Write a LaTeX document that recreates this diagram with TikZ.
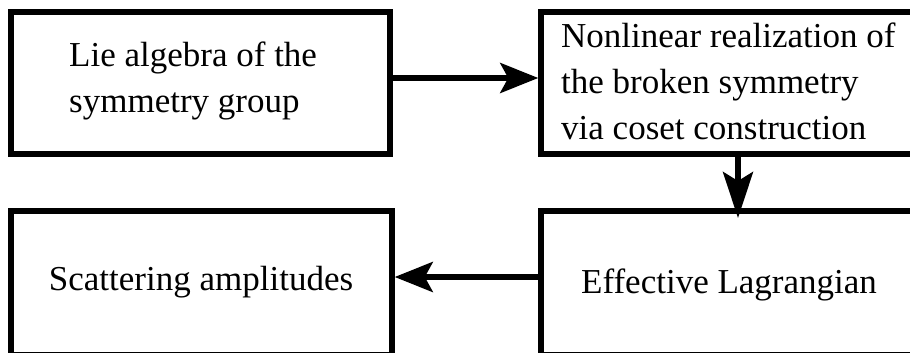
\documentclass[tikz,border=0pt]{standalone}
\usepackage{fontspec}
\setmainfont{Liberation Serif}
\usetikzlibrary{arrows.meta}
\tikzset{
  box/.style={draw=black, line width=5.5pt, rectangle, inner sep=0pt, fill=white},
  label/.style={inner sep=0pt, align=left, font=\fontsize{35}{46}\selectfont},
  arr/.style={line width=5.5pt, -{Stealth[length=38pt, width=30pt, inset=8pt]}},
  arrlong/.style={line width=5.5pt, -{Stealth[length=46pt, width=30pt, inset=9pt]}}
}
\begin{document}
\begin{tikzpicture}[x=1pt,y=-1pt]
\useasboundingbox (0,0) rectangle (910,353);
\clip (0,0) rectangle (910,353);
\fill[white] (0,0) rectangle (910,353);
% boxes
\node[box, minimum width=379pt, minimum height=142pt] (A) at (200.5,83) {};
\node[box, minimum width=379pt, minimum height=142pt] (B) at (730.5,83) {};
\node[box, minimum width=381pt, minimum height=144pt] (C) at (201.5,283) {};
\node[box, minimum width=379pt, minimum height=144pt] (D) at (730.5,283) {};
% texts (base anchor = baseline of the last line)
\node[label, anchor=base west] (tA) at (69,112) {Lie algebra of the\\symmetry group};
\node[label, anchor=base west] (tB) at (561,139) {Nonlinear realization of\\the broken symmetry\\via coset construction};
\node[label, anchor=base] (tC) at (201,290) {Scattering amplitudes};
\node[label, anchor=base] (tD) at (729,293) {Effective Lagrangian};
% guide coordinates
\coordinate (r1) at (0,78);
\coordinate (r2) at (738,0);
\coordinate (r3) at (0,277);
\coordinate (tipd) at (738,218);
% connectors
\draw[arr] (A.east |- r1) -- (B.west |- r1);
\draw[arrlong] (B.south -| r2) -- (tipd);
\draw[arr] (D.west |- r3) -- (C.east |- r3);
\end{tikzpicture}
\end{document}
